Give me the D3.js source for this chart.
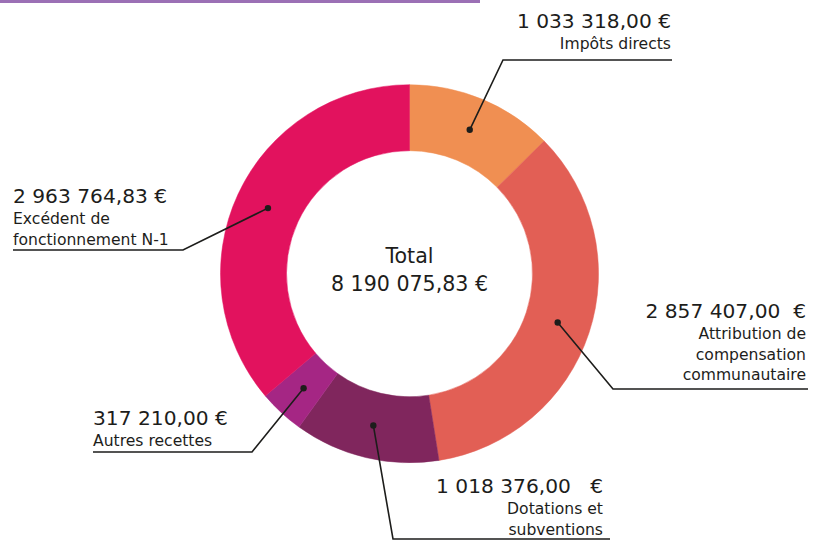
<!DOCTYPE html>
<html>
<head>
<meta charset="utf-8">
<script src="https://cdn.jsdelivr.net/npm/d3@7"></script>
<style>
  body { margin: 0; background: #fff; }
  svg { display: block; font-family: 'DejaVu Sans', sans-serif; }
</style>
</head>
<body>
<svg id="chart" width="827" height="540"></svg>
<script>
// Recettes de fonctionnement
const categories = [
  'Impôts directs',
  'Attribution de compensation communautaire',
  'Dotations et subventions',
  'Autres recettes',
  'Excédent de fonctionnement N-1'
];
const values = [1033318.00, 2857407.00, 1018376.00, 317210.00, 2963764.83];
// category text as shown, one entry per line
const labelLines = [
  ['Impôts directs'],
  ['Attribution de', 'compensation', 'communautaire'],
  ['Dotations et', 'subventions'],
  ['Autres recettes'],
  ['Excédent de', 'fonctionnement N-1']
];
const euroGap = [1, 2, 3, 1, 1];
const colors = ['#f08f52', '#e25f55', '#80265d', '#a52684', '#e2125e'];

// label layout: text anchor point, elbow, end of underline
const labelLayout = [
  { x: 671, y: 28, anchor: 'end',   elbow: [503, 60],  lineEnd: 672 },
  { x: 806, y: 318, anchor: 'end',  elbow: [613, 389], lineEnd: 808 },
  { x: 603, y: 493, anchor: 'end',  elbow: [393, 539], lineEnd: 610 },
  { x: 93,  y: 425, anchor: 'start', elbow: [252, 452], lineEnd: 93 },
  { x: 13,  y: 203, anchor: 'start', elbow: [183, 250], lineEnd: 13 }
];

const cx = 409.5, cy = 273.7;
const outerR = 189, innerR = 123;

const fr = d3.formatLocale({ decimal: ',', thousands: '\u00a0', grouping: [3], currency: ['', ' €'] });
const fmt = fr.format(',.2f');

const svg = d3.select('#chart');

// top accent bar
svg.append('rect')
  .attr('x', 0).attr('y', 0)
  .attr('width', 480).attr('height', 3)
  .attr('fill', '#9b70b5');

const g = svg.append('g').attr('transform', `translate(${cx},${cy})`);

const pie = d3.pie().sort(null).value(d => d)(values);
const arc = d3.arc().innerRadius(innerR).outerRadius(outerR);

g.selectAll('path.slice')
  .data(pie)
  .join('path')
  .attr('class', 'slice')
  .attr('d', arc)
  .attr('fill', (d, i) => colors[i])
  .attr('stroke', (d, i) => colors[i])
  .attr('stroke-width', 0.5);

// leader lines
pie.forEach((d, i) => {
  const [px, py] = arc.centroid(d);
  const L = labelLayout[i];
  const pts = [[px + cx, py + cy], L.elbow, [L.lineEnd, L.elbow[1]]];
  svg.append('path')
    .attr('d', d3.line()(pts))
    .attr('fill', 'none')
    .attr('stroke', '#1d1d1b')
    .attr('stroke-width', 1.6);
  svg.append('circle')
    .attr('cx', px + cx).attr('cy', py + cy)
    .attr('r', 3.2)
    .attr('fill', '#1d1d1b');
});

// labels
labelLayout.forEach((L, i) => {
  const t = svg.append('text')
    .attr('x', L.x).attr('y', L.y)
    .attr('text-anchor', L.anchor)
    .attr('fill', '#1d1d1b')
    .style('white-space', 'pre');
  t.append('tspan')
    .attr('font-size', 20.2)
    .text(fmt(values[i]) + '\u00a0'.repeat(euroGap[i]) + '€');
  labelLines[i].forEach((line, j) => {
    t.append('tspan')
      .attr('x', L.x)
      .attr('dy', j === 0 ? 21 : 20.5)
      .attr('font-size', 15.6)
      .text(line);
  });
});

// center total
const total = d3.sum(values);
svg.append('text')
  .attr('x', cx).attr('y', 263)
  .attr('text-anchor', 'middle')
  .attr('font-size', 20.6)
  .attr('fill', '#1d1d1b')
  .text('Total');
svg.append('text')
  .attr('x', cx).attr('y', 291)
  .attr('text-anchor', 'middle')
  .attr('font-size', 20.6)
  .attr('fill', '#1d1d1b')
  .text(fmt(total) + '\u00a0€');
</script>
</body>
</html>
